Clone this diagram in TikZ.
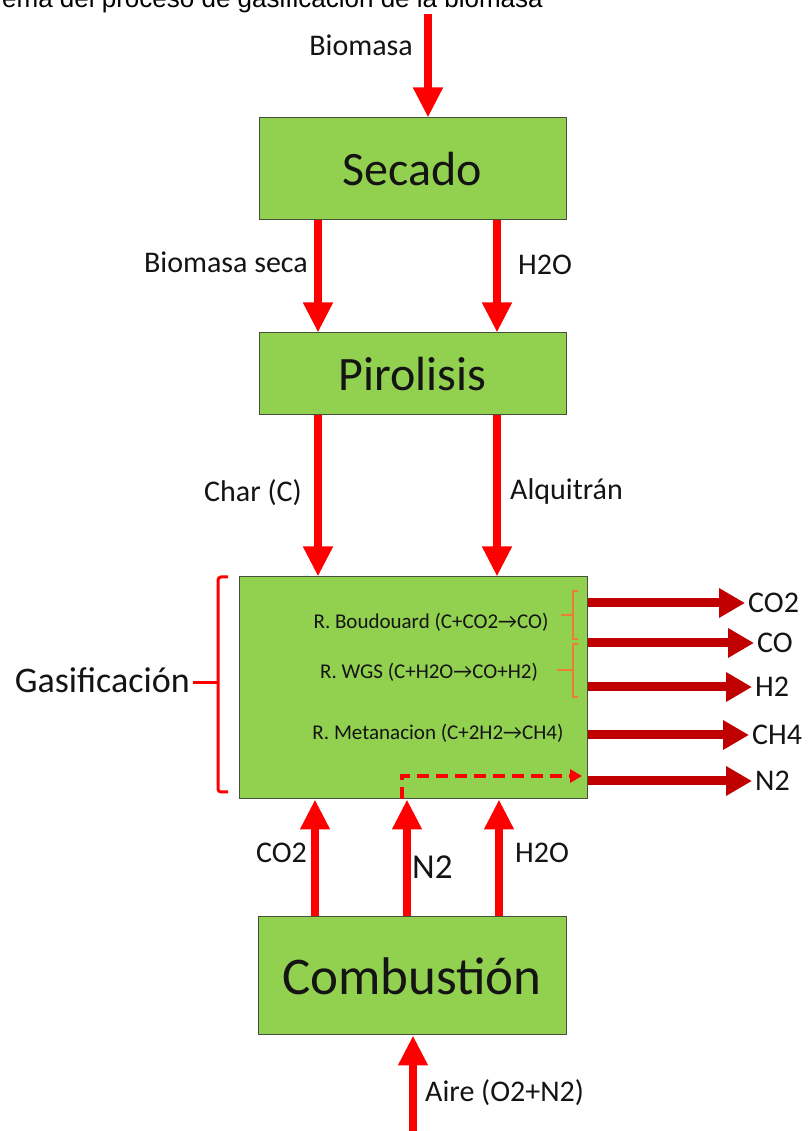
\documentclass[tikz,border=0pt]{standalone}
\usepackage{fontspec}
\setmainfont{Carlito}
\newfontfamily\capfont{Liberation Sans}
\usetikzlibrary{arrows.meta}
\newcommand{\fsz}[1]{\fontsize{#1}{#1}\selectfont}
\begin{document}
\begin{tikzpicture}[x=1pt,y=1pt,
  proc/.style={draw=borderColor,line width=1pt,fill=boxColor,text=textColor,inner sep=0pt,minimum width=307pt,font=\fsz{48}},
  flow/.style={draw=arrowColor,line width=8pt,-{Triangle[width=28pt,length=30pt]}},
  outflow/.style={draw=outColor,line width=9pt,-{Triangle[width=28pt,length=26pt]}},
  dashflow/.style={draw=arrowColor,line width=3.5pt,dash pattern=on 12pt off 7pt,-{Triangle[width=13pt,length=12pt]}},
  lbl/.style={text=textColor,inner sep=0pt,font=\fsz{30}},
  rxn/.style={text=textColor,inner sep=0pt,font=\fsz{21}},
  bracket/.style={draw=arrowColor,line width=3pt,rounded corners=3pt},
  subbracket/.style={draw=orangeColor,line width=1.2pt}]
\definecolor{boxColor}{RGB}{146,208,80}
\definecolor{borderColor}{RGB}{70,80,60}
\definecolor{arrowColor}{RGB}{255,0,0}
\definecolor{outColor}{RGB}{192,0,0}
\definecolor{orangeColor}{RGB}{237,125,49}
\definecolor{textColor}{RGB}{20,20,20}
\path[use as bounding box,fill=white] (0,0) rectangle (808,1131);
\clip (0,0) rectangle (808,1131);

\node[text=black,anchor=base west,inner sep=0pt,font=\capfont\fsz{26}] (caption) at (2,1123) {ema del proceso de gasificación de la biomasa};

% process blocks
\node[proc,minimum height=102pt] (secado) at (412.5,962) {Secado};
\node[proc,minimum height=82pt] (pirolisis) at (412.5,757) {Pirolisis};
\node[proc,minimum width=348pt,minimum height=222pt] (gasif) at (413,443) {};
\node[proc,minimum width=308pt,minimum height=118pt,font=\fsz{53}] (combustion) at (412,155) {Combustión};

% columns of the vertical streams
\coordinate (colBio) at (428,1117);
\coordinate (colL) at (318,0);
\coordinate (colR) at (497,0);
\coordinate (colA) at (315,0);
\coordinate (colN) at (407,0);
\coordinate (colB) at (499,0);
\coordinate (colAire) at (413,0);
\coordinate (dashStart) at (402,0);
\coordinate (dashEnd) at (582,355);

\draw[flow] (colBio) -- (secado.north -| colBio);
\node[lbl,anchor=east] (bioLbl) at (413,1086) {Biomasa};

\draw[flow] (secado.south -| colL) -- (pirolisis.north -| colL);
\draw[flow] (secado.south -| colR) -- (pirolisis.north -| colR);
\node[lbl,anchor=east] (bsecaLbl) at (308,869) {Biomasa seca};
\node[lbl,anchor=west] (aguaLbl) at (518,866) {H2O};

\draw[flow] (pirolisis.south -| colL) -- (gasif.north -| colL);
\draw[flow] (pirolisis.south -| colR) -- (gasif.north -| colR);
\node[lbl,anchor=east] (charLbl) at (302,638) {Char (C)};
\node[lbl,anchor=west] (alqLbl) at (510,639) {Alquitrán};

% reactions inside the gasifier
\node[rxn] (boudouard) at (431,509) {R. Boudouard (C+CO2→CO)};
\node[rxn] (wgs) at (429,459) {R. WGS (C+H2O→CO+H2)};
\node[rxn] (metan) at (438,398) {R. Metanacion (C+2H2→CH4)};

\draw[subbracket] (578,540) -- (573,540) -- (573,492) -- (578,492);
\draw[subbracket] (573,516) -- (561,516);
\draw[subbracket] (578,487) -- (573,487) -- (573,434) -- (578,434);
\draw[subbracket] (573,461) -- (557,461);

% gasification bracket
\coordinate (brMid) at (218,448);
\draw[bracket] (228,554) -- (218,554) -- (218,339) -- (228,339);
\node[lbl,anchor=east,font=\fsz{36}] (gasLbl) at (190,451) {Gasificación};
\draw[bracket] (gasLbl.east) ++(3,-3) -- (brMid);

% products
\node[lbl,anchor=west] (pCOtwo) at (748,528) {CO2};
\node[lbl,anchor=west] (pCO) at (757,488) {CO};
\node[lbl,anchor=west] (pHtwo) at (755,444) {H2};
\node[lbl,anchor=west] (pCHfour) at (752,396) {CH4};
\node[lbl,anchor=west] (pNtwo) at (755,350) {N2};
\foreach \p in {pCOtwo,pCO,pHtwo,pCHfour,pNtwo}
  \draw[outflow] (gasif.east |- \p.west) -- ([xshift=-3pt]\p.west);

\draw[dashflow] (gasif.south -| dashStart) |- (dashEnd);

% combustion streams
\draw[flow] (combustion.north -| colA) -- (gasif.south -| colA);
\draw[flow] (combustion.north -| colN) -- (gasif.south -| colN);
\draw[flow] (combustion.north -| colB) -- (gasif.south -| colB);
\node[lbl,anchor=east] (cotwoLbl) at (307,278) {CO2};
\node[lbl,anchor=west,font=\fsz{35}] (ntwoLbl) at (412,264) {N2};
\node[lbl,anchor=west] (hotwoLbl) at (515,278) {H2O};

\draw[flow] (colAire) -- (combustion.south -| colAire);
\node[lbl,anchor=west] (aireLbl) at (425,38) {Aire (O2+N2)};
\end{tikzpicture}
\end{document}
